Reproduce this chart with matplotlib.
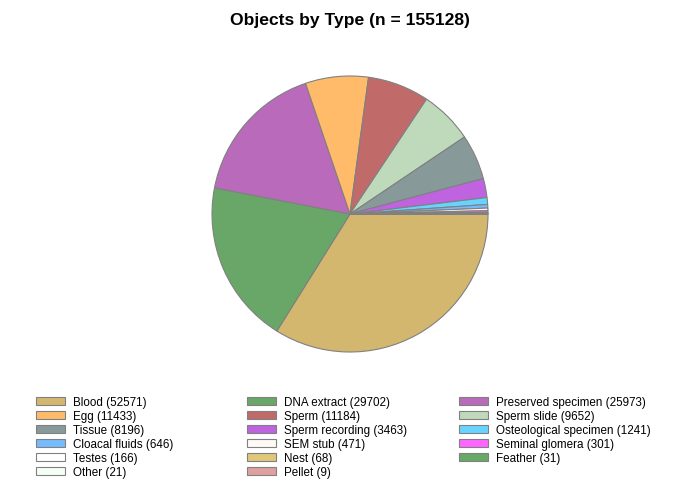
import matplotlib.pyplot as plt
from matplotlib.patches import Patch

plt.rcParams['font.family'] = ['Liberation Sans', 'DejaVu Sans']

types = ['Blood', 'DNA extract', 'Preserved specimen', 'Egg', 'Sperm', 'Sperm slide',
         'Tissue', 'Sperm recording', 'Osteological specimen', 'Cloacal fluids',
         'SEM stub', 'Seminal glomera', 'Testes', 'Nest', 'Feather', 'Other', 'Pellet']
counts = [52571, 29702, 25973, 11433, 11184, 9652, 8196, 3463, 1241, 646,
          471, 301, 166, 68, 31, 21, 9]
colors = ['#D4B76E', '#68A768', '#BA6ABB', '#FFBB6A', '#C06A6A', '#BFD9BB',
          '#889999', '#BF63E0', '#66D4FF', '#77BBFF', '#FFFAF5', '#FF66FF',
          '#FFFFFF', '#E0C87A', '#66AA66', '#F5FFF5', '#E0A0A0']

W, H = 700, 489
fig = plt.figure(figsize=(7, 4.89), dpi=100)
cx, cy, r = 350, 215, 138
ax = fig.add_axes([(cx - r) / W, 1 - (cy + r) / H, 2 * r / W, 2 * r / H])
ax.pie(counts, colors=colors, startangle=0, counterclock=False,
       wedgeprops=dict(edgecolor='#808080', linewidth=0.8))
ax.set_xlim(-1, 1)
ax.set_ylim(-1, 1)
ax.set_aspect('equal')

fig.suptitle('Objects by Type (n = %d)' % sum(counts), fontsize=12.6,
             fontweight='bold', y=1 - 21 / H, va='center')

# one legend per column, items go row by row
for col, x in enumerate([36, 247, 459]):
    idx = list(range(col, len(types), 3))
    handles = [Patch(facecolor=colors[i], edgecolor='#808080', linewidth=0.8) for i in idx]
    labels = ['%s (%d)' % (types[i], counts[i]) for i in idx]
    fig.legend(handles, labels, ncol=1, loc='upper left',
               bbox_to_anchor=(x / W, 1 - 397 / H),
               frameon=False, fontsize=8.4, handlelength=2.5, handleheight=0.62,
               handletextpad=0.7, labelspacing=0.17, borderpad=0, borderaxespad=0)

fig.savefig('out.png', dpi=100)
